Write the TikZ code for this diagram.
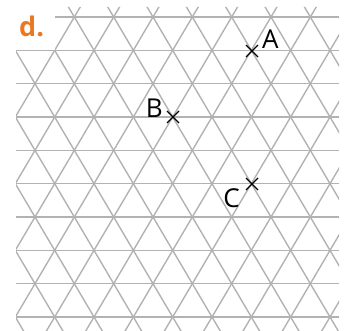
\documentclass[tikz,border=0pt]{standalone}
\usepackage{fontspec}
\setmainfont{Open Sans}
\usetikzlibrary{positioning,shapes.misc}
\definecolor{gridgray}{RGB}{178,178,178}
\definecolor{tagorange}{RGB}{235,120,30}

\begin{document}
\begin{tikzpicture}[
	x = 1pt, y = -1pt, % pixel units, y pointing down
	grid/.style={draw=gridgray, line width=1.4pt},
	X/.style={cross out, draw=black, line width=1.3pt, minimum size=12pt, inner sep=0pt, outer sep=0pt},
	L/.style={inner sep=0pt, font=\fontsize{26}{26}\selectfont},
	]
	\useasboundingbox (0,0) rectangle (350,331);

	% horizontal lines
	\draw[grid] (55,17) -- (339,17);
	\foreach \j in {1,...,9}
		\draw[grid] (16,17+33.333*\j) -- (339,17+33.333*\j);

	% slanted lines
	\begin{scope}
		\clip (16,51) -- (55,51) -- (55,7) -- (339,7) -- (339,331) -- (16,331) -- cycle;
		\foreach \k in {-6,...,13} {
			\pgfmathsetmacro{\xo}{35+39.333*\k}
			\draw[grid] ({\xo+19.667},-16.333) -- ({\xo-196.67},350.33);
			\draw[grid] ({\xo-19.667},-16.333) -- ({\xo+196.67},350.33);
		}
	\end{scope}

	% points
	\node[X] (A) at (252,51) {};
	\node[X] (B) at (173,117) {};
	\node[X] (C) at (252,184) {};

	% labels
	\node[L] (labA) [above right = 2pt and 10pt of A.center] {A};
	\node[L] (labB) [above left = -1pt and 10pt of B.center] {B};
	\node[L] (labC) [below left = 4pt and 12pt of C.center] {C};
	\node[inner sep=0pt, anchor=base west, text=tagorange, font=\fontsize{27}{27}\selectfont\bfseries] (tag) at (19,37) {d.};
\end{tikzpicture}
\end{document}
